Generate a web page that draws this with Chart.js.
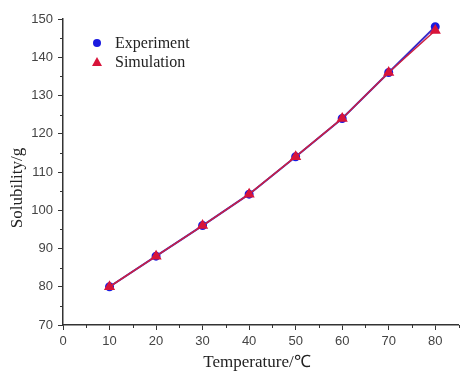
<!DOCTYPE html>
<html>
<head>
<meta charset="utf-8">
<script src="https://cdn.jsdelivr.net/npm/chart.js@4.4.1/dist/chart.umd.min.js"></script>
<style>
  html, body { margin: 0; padding: 0; background: #fff; }
  #wrap { width: 465px; height: 372px; }
</style>
</head>
<body>
<div id="wrap"><canvas id="chart" width="465" height="372"></canvas></div>
<script>
const temperatures = [10, 20, 30, 40, 50, 60, 70, 80];
const experiment = [80, 88, 96, 104.2, 114, 124, 136, 148];
const simulation = [80, 88, 96, 104.2, 114, 124, 136, 147];
const seriesNames = ['Experiment', 'Simulation'];
const xTitle = 'Temperature/℃';
const yTitle = 'Solubility/g';

const axisColor = '#333';
const serif = '"Liberation Serif", "Times New Roman", serif';

// short minor ticks halfway between the labelled ones
const minorTicks = {
  id: 'minorTicks',
  afterDraw(chart) {
    const ctx = chart.ctx;
    const x = chart.scales.x, y = chart.scales.y;
    ctx.save();
    ctx.strokeStyle = axisColor;
    ctx.lineWidth = 1;
    ctx.beginPath();
    for (let v = 5; v <= 85; v += 10) {
      const px = Math.round(x.getPixelForValue(v)) + 0.5;
      ctx.moveTo(px, y.bottom);
      ctx.lineTo(px, y.bottom + 3);
    }
    for (let v = 75; v <= 145; v += 10) {
      const py = Math.round(y.getPixelForValue(v)) + 0.5;
      ctx.moveTo(x.left, py);
      ctx.lineTo(x.left - 3, py);
    }
    ctx.stroke();
    ctx.restore();
  }
};

// axis titles, placed like the original (y title sits a bit low)
const axisTitles = {
  id: 'axisTitles',
  afterDraw(chart) {
    const ctx = chart.ctx;
    ctx.save();
    ctx.font = '17px ' + serif;
    ctx.fillStyle = '#222';
    ctx.textAlign = 'center';
    ctx.textBaseline = 'middle';
    ctx.fillText(xTitle, 257, 363);
    ctx.translate(18, 188);
    ctx.rotate(-Math.PI / 2);
    ctx.fillText(yTitle, 0, 0);
    ctx.restore();
  }
};

// legend drawn inside the plot, top left
const innerLegend = {
  id: 'innerLegend',
  afterDraw(chart) {
    const ctx = chart.ctx;
    ctx.save();
    ctx.font = '16px ' + serif;
    ctx.textBaseline = 'middle';
    seriesNames.forEach((name, i) => {
      const ds = chart.data.datasets[i];
      const cy = 43 + i * 19;
      const cx = 97;
      ctx.fillStyle = ds.pointBackgroundColor;
      ctx.beginPath();
      if (ds.pointStyle === 'triangle') {
        ctx.moveTo(cx, cy - 5);
        ctx.lineTo(cx + 5, cy + 4);
        ctx.lineTo(cx - 5, cy + 4);
        ctx.closePath();
      } else {
        ctx.arc(cx, cy, 4, 0, Math.PI * 2);
      }
      ctx.fill();
      ctx.fillStyle = '#222';
      ctx.fillText(name, 115, cy + 1);
    });
    ctx.restore();
  }
};

new Chart(document.getElementById('chart').getContext('2d'), {
  type: 'line',
  data: {
    labels: temperatures,
    datasets: [
      {
        label: seriesNames[0],
        data: temperatures.map((t, i) => ({ x: t, y: experiment[i] })),
        borderColor: '#3a2ac8',
        backgroundColor: '#1a1ae0',
        pointBackgroundColor: '#1a1ae0',
        pointBorderColor: '#1a1ae0',
        pointStyle: 'circle',
        pointRadius: 3.5,
        borderWidth: 2,
        tension: 0,
        order: 1
      },
      {
        label: seriesNames[1],
        data: temperatures.map((t, i) => ({ x: t, y: simulation[i] })),
        borderColor: '#cc2040',
        backgroundColor: '#d8143a',
        pointBackgroundColor: '#d8143a',
        pointBorderColor: '#d8143a',
        pointStyle: 'triangle',
        pointRadius: 5,
        borderWidth: 1.5,
        tension: 0,
        order: 0
      }
    ]
  },
  options: {
    responsive: false,
    animation: false,
    layout: { padding: { top: 19, right: 0, left: 0, bottom: 0 } },
    plugins: { legend: { display: false }, tooltip: { enabled: false } },
    scales: {
      x: {
        type: 'linear',
        min: 0,
        max: 85,
        afterFit(s) { s.height = 47; },
        afterBuildTicks(s) { s.ticks = s.ticks.filter(t => t.value <= 80); },
        border: { display: true, color: axisColor, width: 1.5 },
        grid: { drawOnChartArea: false, drawTicks: true, tickLength: 5, color: axisColor },
        ticks: {
          stepSize: 10,
          color: '#444',
          padding: 4,
          maxRotation: 0,
          font: { family: '"Liberation Sans", Arial, sans-serif', size: 13 }
        }
      },
      y: {
        min: 70,
        max: 150,
        afterFit(s) { s.width = 63; },
        border: { display: true, color: axisColor, width: 1.5 },
        grid: { drawOnChartArea: false, drawTicks: true, tickLength: 5, color: axisColor },
        ticks: {
          stepSize: 10,
          color: '#444',
          padding: 5,
          font: { family: '"Liberation Sans", Arial, sans-serif', size: 13 }
        }
      }
    }
  },
  plugins: [minorTicks, axisTitles, innerLegend]
});
</script>
</body>
</html>
